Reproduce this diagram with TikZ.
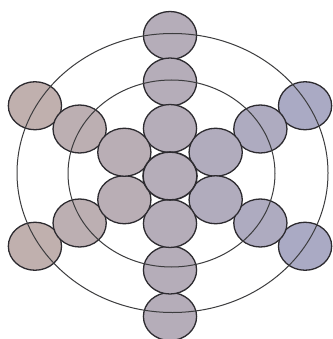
\documentclass[tikz,border=0pt]{standalone}
\definecolor{leftc}{RGB}{192,176,174}
\definecolor{rightc}{RGB}{170,170,196}
\definecolor{discline}{RGB}{45,43,48}
\definecolor{ringline}{RGB}{60,60,62}
\begin{document}
\begin{tikzpicture}[x=1pt,y=-1pt,
  disc/.style={draw=discline, line width=1.3pt},
  ring/.style={draw=ringline, line width=1.0pt}]
\useasboundingbox (0,0) rectangle (332,339);
\fill[white] (0,0) rectangle (332,339);
\foreach \d in {140.5,94,47.5}{
  \foreach \a in {90,30,-30,-90,-150,150}{
    \pgfmathsetmacro\px{170+1.11*\d*cos(\a)}
    \pgfmathsetmacro\py{176-\d*sin(\a)}
    \pgfmathtruncatemacro\t{max(0,min(100,(\px-30)/2.8))}
    \colorlet{cfill}{rightc!\t!leftc}
    \draw[disc, fill=cfill] (\px,\py) ellipse [x radius=26.6, y radius=24];
  }
}
\colorlet{cfill}{rightc!50!leftc}
\draw[disc, line width=1.6pt, fill=cfill] (170,176) ellipse [x radius=27, y radius=24];
\draw[ring] (172.5,173) ellipse [x radius=155.5, y radius=139.5];
\draw[ring] (171.5,173.5) ellipse [x radius=103.5, y radius=93.5];
\end{tikzpicture}
\end{document}
